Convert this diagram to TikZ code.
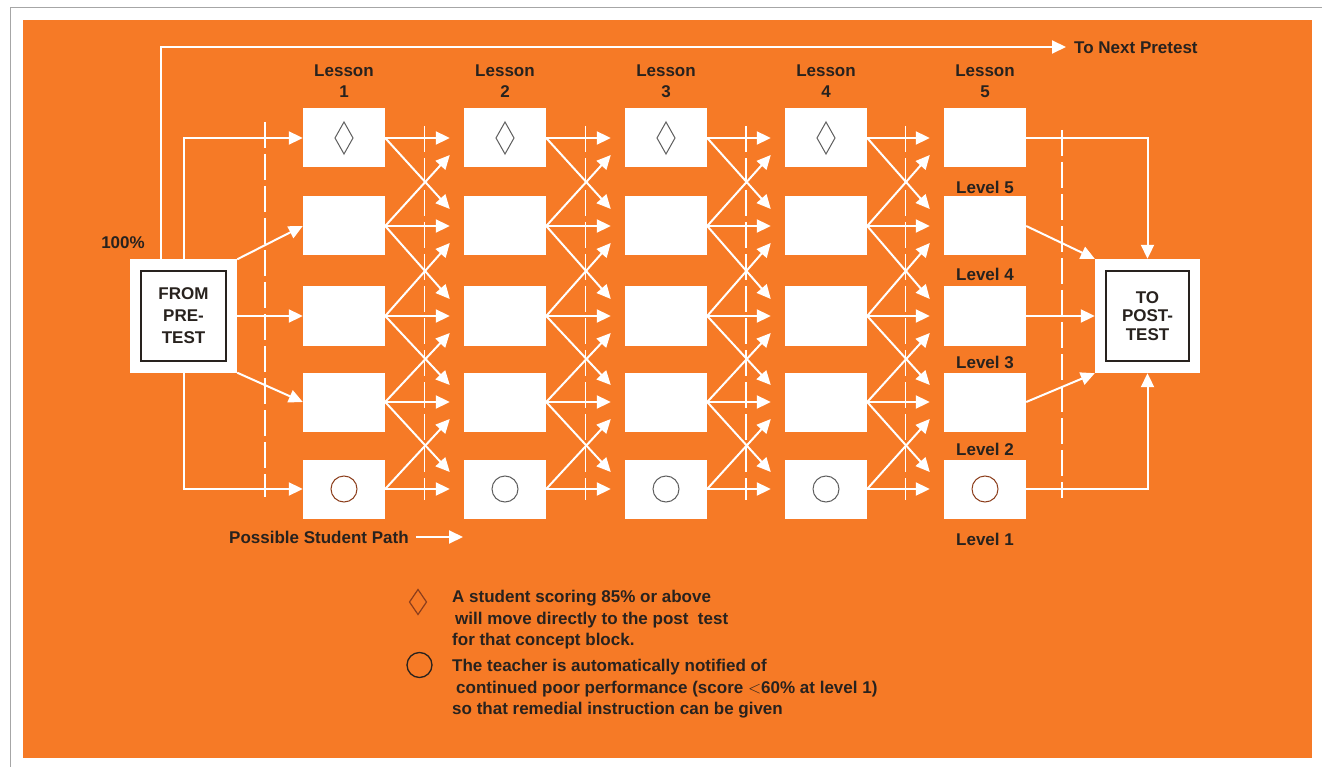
\documentclass[tikz,border=0pt]{standalone}
\usepackage{fontspec}
\setmainfont{Liberation Sans}
\usetikzlibrary{arrows.meta,calc}
\definecolor{bgorange}{RGB}{246,122,38}
\definecolor{ink}{RGB}{40,34,30}
\definecolor{markgray}{RGB}{95,95,95}
\definecolor{markbrown}{RGB}{140,62,28}
\newcommand\lozmark[2]{\draw[#2, line width=1pt] ($(#1)+(0,-16)$) -- ($(#1)+(9,0)$) -- ($(#1)+(0,16)$) -- ($(#1)+(-9,0)$) -- cycle;}
\tikzset{
  lbox/.style={fill=white, minimum width=82pt, minimum height=59pt, inner sep=0pt},
  conn/.style={draw=white, line width=2pt, -{Triangle[length=14pt,width=13pt]}},
  guide/.style={draw=white, line width=1.5pt, dash pattern=on 26pt off 6pt},
  lbl/.style={text=ink, inner sep=0pt},
  bigbox/.style={fill=white, inner sep=0pt},
  innerbox/.style={draw=ink, line width=1.6pt, fill=white, inner sep=0pt, align=center, text=ink},
}
\begin{document}
\begin{tikzpicture}[x=1pt,y=-1pt,font=\bfseries\fontsize{17}{21}\selectfont]
\useasboundingbox (0,0) rectangle (1322,767);
\fill[white] (0,0) rectangle (1322,767);
\draw[gray!70, line width=1pt] (10,767) -- (10,8) -- (1322,8);
\fill[bgorange] (23,20) rectangle (1312,758);

% dashed guides
\foreach \x/\a/\b in {265/122/497, 424.5/126/500, 585.5/126/500, 746/126/500, 905.5/126/500, 1062/130/498}{
  \draw[guide] (\x,\a) -- (\x,\b);
}

% lesson boxes
\foreach \c/\x in {1/344,2/505,3/666,4/826,5/985}{
  \node[lbl, align=center] (les\c) at (\x,81.5) {Lesson\\\c};
  \foreach \r/\y in {1/138,2/226,3/316,4/402,5/489}{
    \node[lbox] (b\c\r) at (\x,\y) {};
  }
}

% arrows between lessons
\foreach \c/\n in {1/2,2/3,3/4,4/5}{
  \foreach \r in {1,...,5}{
    \draw[conn] (b\c\r.east) -- ($(b\n\r.west)+(-14,0)$);
  }
  \foreach \r/\s in {1/2,2/3,3/4,4/5}{
    \draw[conn] (b\c\r.east) -- ($(b\n\s.west)+(-14,-17)$);
    \draw[conn] (b\c\s.east) -- ($(b\n\r.west)+(-14,17)$);
  }
}

% marks
\lozmark{b11}{markgray}
\lozmark{b21}{markgray}
\lozmark{b31}{markgray}
\lozmark{b41}{markgray}
\draw[markbrown, line width=1pt] (b15) circle[radius=13pt];
\draw[markgray, line width=1pt] (b25) circle[radius=13pt];
\draw[markgray, line width=1pt] (b35) circle[radius=13pt];
\draw[markgray, line width=1pt] (b45) circle[radius=13pt];
\draw[markbrown, line width=1pt] (b55) circle[radius=13pt];

% from pretest
\node[bigbox, minimum width=107pt, minimum height=113pt] (from) at (183.5,316) {};
\node[innerbox, minimum width=85pt, minimum height=90pt, font=\bfseries\fontsize{17}{22}\selectfont] (fromin) at (from.center) {FROM\\PRE-\\TEST};
\node[lbl] (pct) at (123,243) {100\%};

\coordinate (nextpt) at (1066,47);
\draw[conn] ([xshift=-23pt]from.north) |- (nextpt);
\node[lbl, anchor=west] (next) at (1074,48) {To Next Pretest};

\draw[conn] (from.north) |- (b11.west);
\draw[conn] (from.north east) -- (b12.west);
\draw[conn] (from.east) -- (b13.west);
\draw[conn] (from.south east) -- (b14.west);
\draw[conn] (from.south) |- (b15.west);

% to posttest
\node[bigbox, minimum width=105pt, minimum height=114pt] (to) at (1147.5,316) {};
\node[innerbox, minimum width=83pt, minimum height=90pt, font=\bfseries\fontsize{17}{18.5}\selectfont] (toin) at (to.center) {TO\\POST-\\TEST};

\draw[conn] (b51.east) -| (to.north);
\draw[conn] (b52.east) -- (to.north west);
\draw[conn] (b53.east) -- (to.west);
\draw[conn] (b54.east) -- (to.south west);
\draw[conn] (b55.east) -| (to.south);

% level labels
\node[lbl] (lv5) at (985,187) {Level 5};
\node[lbl] (lv4) at (985,274) {Level 4};
\node[lbl] (lv3) at (985,362) {Level 3};
\node[lbl] (lv2) at (985,449) {Level 2};
\node[lbl] (lv1) at (985,539) {Level 1};

% possible student path
\node[lbl, anchor=west] (psp) at (229,537) {Possible Student Path};
\coordinate (pspend) at (463,537);
\draw[conn] ([xshift=7pt]psp.east) -- (pspend);

% legend
\coordinate (legd) at (418,602);
\draw[markbrown, line width=1.2pt] ($(legd)+(0,-12.5)$) -- ($(legd)+(8.5,0)$) -- ($(legd)+(0,12.5)$) -- ($(legd)+(-8.5,0)$) -- cycle;
\draw[ink, line width=1.3pt] (419.5,665) circle[radius=12.5pt];
\node[lbl, anchor=west] (t1) at (452,598) {A student scoring 85\% or above};
\node[lbl, anchor=west] (t2) at (455,620) {will move directly to the post\ \ test};
\node[lbl, anchor=west] (t3) at (452,641) {for that concept block.};
\node[lbl, anchor=west] (t4) at (452,667) {The teacher is automatically notified of};
\node[lbl, anchor=west] (t5) at (456,689) {continued poor performance (score $<$60\% at level 1)};
\node[lbl, anchor=west] (t6) at (452,710) {so that remedial instruction can be given};
\end{tikzpicture}
\end{document}
